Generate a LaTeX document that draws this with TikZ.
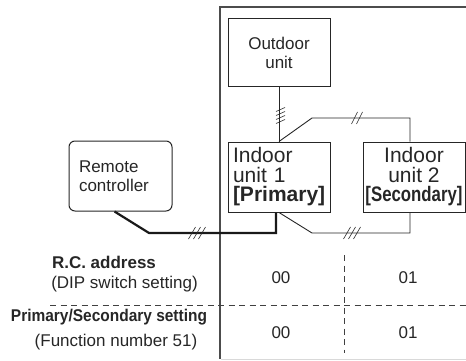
\documentclass[tikz,border=0pt]{standalone}
\usepackage{fontspec}
\setmainfont{Liberation Sans}
\begin{document}
\begin{tikzpicture}[x=1pt,y=-1pt,font=\fontsize{17}{19}\selectfont,color=black!85,
  unit/.style={draw=black!85,line width=1pt,minimum width=102pt,minimum height=70pt,inner sep=0pt},
  big/.style={font=\fontsize{21}{19.5}\selectfont},
  wire/.style={draw=black!85,line width=0.9pt},
  rcwire/.style={draw=black!90,line width=2.2pt},
  cell/.style={draw=black!75,line width=1pt,dash pattern=on 6pt off 4.5pt}]
  \useasboundingbox (0,0) rectangle (466,361);
  % frame of the system
  \draw[black!70,line width=1.2pt] (466,7) -- (220,7) -- (220,359);
  \draw[black!15,line width=0.8pt] (221,359.5) -- (466,359.5);
  \node[unit,minimum height=68pt,align=center] (outdoor) at (279,53){Outdoor\\unit};
  \node[unit,big,text width=92pt,inner xsep=5pt,align=left] (indoor1) at (279,177){Indoor\\unit 1\\\textbf{[Primary]}};
  \node[unit,big,align=center] (indoor2) at (414,177){Indoor\\unit 2\\\scalebox{0.8}[1]{\textbf{[Secondary]}}};
  \node[unit,rounded corners=6pt,minimum width=103pt,text width=83pt,inner xsep=10pt,align=left] (remote) at (120.5,176){Remote\\controller};
  % wiring
  \coordinate (j1) at (312,118);
  \coordinate (j2) at (410,118);
  \coordinate (r1) at (149,233);
  \coordinate (r2) at (276,233);
  \coordinate (b1) at (312,233);
  \coordinate (b2) at (410,233);
  \draw[wire] (outdoor.south) -- (indoor1.north);
  \draw[wire] (indoor1.north) -- (j1) -- (j2) -- (j2 |- indoor2.north);
  \draw[rcwire] ([xshift=-6pt]remote.south) -- (r1) -- (r2) -- (r2 |- indoor1.south);
  \draw[wire] (indoor1.south) -- (b1) -- (b2) -- (b2 |- indoor2.south);
  % line marks
  \coordinate (m1) at (280.5,115.5);
  \coordinate (m2) at (357,118);
  \coordinate (m3) at (197,233);
  \coordinate (m4) at (352,233);
  \foreach \d in {-6,-2,2,6}
    \draw[line width=0.6pt] ([shift={(-4.5,\d+2)}]m1) -- ([shift={(4.5,\d-2)}]m1);
  \foreach \d in {-2.5,2.5}
    \draw[line width=0.6pt] ([shift={(\d-3,6)}]m2) -- ([shift={(\d+3,-6)}]m2);
  \foreach \d in {-5,0,5}{
    \draw[line width=0.6pt] ([shift={(\d-3.5,6)}]m3) -- ([shift={(\d+3.5,-6)}]m3);
    \draw[line width=0.6pt] ([shift={(\d-3.5,6)}]m4) -- ([shift={(\d+3.5,-6)}]m4);}
  % settings table
  \coordinate (h1) at (50,305);
  \coordinate (h2) at (466,305);
  \coordinate (v1) at (344,255);
  \coordinate (v2) at (344,353);
  \draw[cell] (h1) -- (h2);
  \draw[cell] (v1) -- (v2);
  \node (rcaddr) at (104,262){\textbf{R.C. address}};
  \node (dip) at (124.5,284){(DIP switch setting)};
  \node (pss) at (109,317){\scalebox{0.91}[1]{\textbf{Primary/Secondary setting}}};
  \node (func) at (116,342){(Function number 51)};
  \node (a1) at (281,278){00};
  \node (a2) at (408,278){01};
  \node (p1) at (281,333){00};
  \node (p2) at (408,333){01};
\end{tikzpicture}
\end{document}
